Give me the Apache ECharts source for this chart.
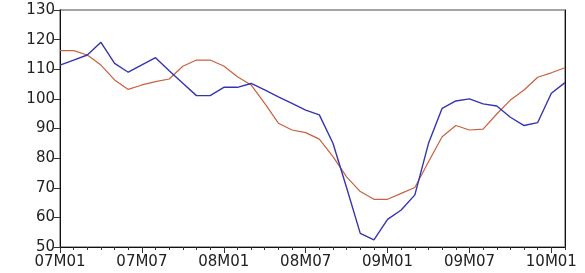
<!DOCTYPE html>
<html>
<head>
<meta charset="utf-8">
<script src="https://cdn.jsdelivr.net/npm/echarts@6/dist/echarts.min.js"></script>
<style>
  html, body { margin: 0; padding: 0; background: #fff; }
  #box { width: 585px; height: 273px; }
</style>
</head>
<body>
<div id="box"></div>
<script>
// months 2007M01 .. 2010M02
const months = []
for (let y = 7; y <= 10; y++) {
    for (let m = 1; m <= 12; m++) {
        if (y === 10 && m > 2) break
        months.push('0'.concat(y).slice(-2) + 'M' + ('0' + m).slice(-2))
    }
}

// blue series
const blueVals = [
    111.4, 113.1, 114.8, 119.1, 112.0, 109.0, 111.5, 113.9, 109.5, 105.3,
    101.1, 101.1, 103.9, 103.9, 105.2, 103.0, 100.7, 98.5, 96.2, 94.6,
    85.0, 70.0, 54.6, 52.4, 59.3, 62.5, 67.6, 85.0, 96.8, 99.3,
    100.0, 98.3, 97.6, 93.8, 91.0, 92.0, 101.9, 105.5
]

// red series
const redVals = [
    116.3, 116.3, 114.8, 111.4, 106.4, 103.2, 104.7, 105.8, 106.7, 111.0,
    113.1, 113.1, 111.1, 107.5, 104.7, 98.5, 91.8, 89.5, 88.6, 86.4,
    80.5, 73.7, 68.7, 66.1, 66.1, 68.1, 70.1, 78.8, 87.2, 91.0,
    89.5, 89.8, 94.9, 99.6, 103.0, 107.3, 108.8, 110.5
]

const yMin = 50, yMax = 130, yStep = 10

const labelFont = { fontFamily: 'DejaVu Sans', fontSize: 15, color: '#222' }

const chart = echarts.init(document.getElementById('box'), null, { renderer: 'canvas' })

chart.setOption({
    animation: false,
    backgroundColor: '#fff',
    grid: {
        left: 60, right: 20, top: 10, bottom: 26,
        show: true, borderColor: '#888', borderWidth: 1.5, backgroundColor: 'transparent'
    },
    xAxis: [
        {
            type: 'category',
            data: months,
            boundaryGap: false,
            axisLine: { lineStyle: { color: '#111', width: 1 } },
            axisTick: { interval: 0, length: 3, lineStyle: { color: '#333' } },
            axisLabel: Object.assign({ interval: 5, margin: 8 }, labelFont),
            splitLine: { show: false }
        },
        {
            type: 'category',
            data: months,
            boundaryGap: false,
            position: 'bottom',
            axisLine: { show: false },
            axisTick: { interval: 5, length: 6, lineStyle: { color: '#333' } },
            axisLabel: { show: false },
            splitLine: { show: false }
        }
    ],
    yAxis: [
        {
            type: 'value',
            min: yMin, max: yMax, interval: yStep,
            axisLine: { show: true, lineStyle: { color: '#111', width: 1 } },
            axisTick: { show: true, length: 6, lineStyle: { color: '#333' } },
            axisLabel: Object.assign({ margin: 5 }, labelFont),
            splitLine: { show: false }
        },
        {
            type: 'value',
            position: 'right',
            min: yMin, max: yMax, interval: yStep,
            axisLine: { show: true, lineStyle: { color: '#111', width: 1 } },
            axisTick: { show: false },
            axisLabel: { show: false },
            splitLine: { show: false }
        }
    ],
    series: [
        {
            name: 'red',
            type: 'line',
            data: redVals,
            showSymbol: false,
            lineStyle: { color: '#c9603f', width: 1.2 },
            z: 2
        },
        {
            name: 'blue',
            type: 'line',
            data: blueVals,
            showSymbol: false,
            lineStyle: { color: '#3535b0', width: 1.4 },
            z: 3
        }
    ]
})
</script>
</body>
</html>
